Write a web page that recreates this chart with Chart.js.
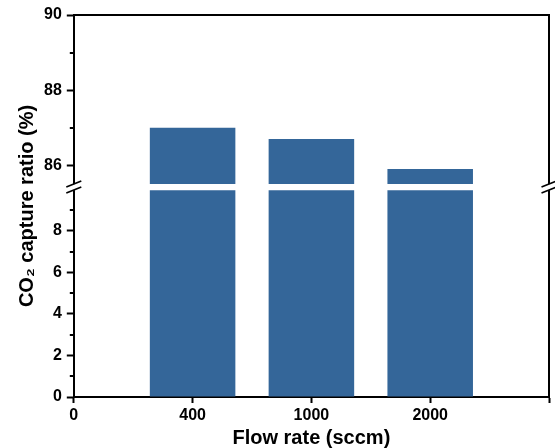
<!DOCTYPE html>
<html>
<head>
<meta charset="utf-8">
<script src="https://cdn.jsdelivr.net/npm/chart.js@4/dist/chart.umd.min.js"></script>
<style>
html,body{margin:0;padding:0;background:#fff;}
#wrap{width:555px;height:448px;}
</style>
</head>
<body>
<div id="wrap"><canvas id="c" width="555" height="448"></canvas></div>
<script>
// ---- data ----
const xTickLabels = ['0', '400', '1000', '2000', ''];
const flowRates = ['400', '1000', '2000'];
const captureRatio = [87.0, 86.7, 85.9];
const upperTicks = [86, 88, 90];
const upperMinorTicks = [87, 89];
const lowerTicks = [0, 2, 4, 6, 8];
const lowerMinorTicks = [1, 3, 5, 7, 9];
const upperRange = [85.5, 90];
const lowerRange = [0, 10.25];
const lowerBarTop = 9.95;
const xTitle = 'Flow rate (sccm)';
const yTitle = 'CO\u2082 capture ratio (%)';

// ---- styles ----
const FONT = "'Liberation Sans', Arial, sans-serif";
const BAR = '#346699';
const INK = '#000';
const tickFont = {family: FONT, size: 16, weight: 'bold', lineHeight: 1};
const titleFont = {family: FONT, size: 20, weight: 'bold', lineHeight: 1};

function yAxis(range, ticks, weight, stackWeight) {
  return {
    type: 'linear', position: 'left', stack: 'y', stackWeight: stackWeight, weight: weight,
    min: range[0], max: range[1],
    afterBuildTicks: s => { s.ticks = ticks.map(v => ({value: v})); },
    ticks: {font: tickFont, color: INK, padding: 5},
    grid: {display: true, drawOnChartArea: false, drawTicks: true, tickLength: 7, tickWidth: 2, tickColor: INK},
    border: {display: true, color: INK, width: 2}
  };
}

const decor = {
  id: 'decor',
  beforeDraw(chart) {
    const ctx = chart.ctx;
    ctx.save(); ctx.fillStyle = '#fff'; ctx.fillRect(0, 0, chart.width, chart.height); ctx.restore();
  },
  afterDraw(chart) {
    const ctx = chart.ctx;
    const {left, right} = chart.chartArea;
    const yT = chart.scales.yTop, yB = chart.scales.yBot;
    ctx.save();
    ctx.strokeStyle = INK; ctx.lineWidth = 2;
    const minor = (scale, vals) => vals.forEach(v => {
      const y = Math.round(scale.getPixelForValue(v));
      ctx.beginPath(); ctx.moveTo(left - 4, y); ctx.lineTo(left, y); ctx.stroke();
    });
    minor(yT, upperMinorTicks);
    minor(yB, lowerMinorTicks);
    const yc = (yT.getPixelForValue(upperRange[0]) + yB.getPixelForValue(lowerBarTop)) / 2;
    [left, right].forEach(x => {
      ctx.fillStyle = '#fff';
      ctx.fillRect(x - 3, yc - 3, 6, 6);
      ctx.lineWidth = 1.6;
      [yc - 3, yc + 3].forEach(y => {
        ctx.beginPath(); ctx.moveTo(x - 7.5, y + 3); ctx.lineTo(x + 7.5, y - 3); ctx.stroke();
      });
    });
    ctx.restore();
  }
};

new Chart(document.getElementById('c'), {
  type: 'bar',
  data: {
    labels: xTickLabels,
    datasets: [
      {
        label: 'upper', xAxisID: 'x', yAxisID: 'yTop', grouped: false,
        data: flowRates.map((f, i) => ({x: f, y: captureRatio[i]})),
        backgroundColor: BAR, borderWidth: 0
      },
      {
        label: 'lower', xAxisID: 'x', yAxisID: 'yBot', grouped: false,
        data: flowRates.map((f, i) => ({x: f, y: Math.min(captureRatio[i], lowerBarTop)})),
        backgroundColor: BAR, borderWidth: 0
      }
    ]
  },
  options: {
    responsive: false,
    animation: false,
    devicePixelRatio: 1,
    layout: {padding: {left: 0, right: 6, top: 15, bottom: 0}},
    plugins: {legend: {display: false}, tooltip: {enabled: false}},
    scales: {
      x: {
        type: 'category', position: 'bottom', offset: false,
        ticks: {font: tickFont, color: INK, padding: 4.5, autoSkip: false, maxRotation: 0},
        grid: {display: true, offset: false, drawOnChartArea: false, drawTicks: true, tickLength: 6, tickWidth: 2, tickColor: INK},
        border: {display: true, color: INK, width: 2},
        title: {display: true, text: xTitle, font: titleFont, color: INK, padding: {top: 0, bottom: 0}}
      },
      xTop: {
        type: 'linear', position: 'top', min: 0, max: 1,
        ticks: {display: false}, grid: {display: false, drawTicks: false},
        border: {display: true, color: INK, width: 2}
      },
      yRight: {
        type: 'linear', position: 'right', min: 0, max: 1,
        ticks: {display: false}, grid: {display: false, drawTicks: false},
        border: {display: true, color: INK, width: 2}
      },
      yTitle: {
        type: 'linear', position: 'left', weight: 10, min: 0, max: 1,
        ticks: {display: false}, grid: {display: false, drawTicks: false},
        border: {display: false},
        title: {display: true, text: yTitle, font: titleFont, color: INK, padding: {top: 17, bottom: 2}}
      },
      yTop: yAxis(upperRange, upperTicks, 2, 169),
      yBot: yAxis(lowerRange, lowerTicks, 1, 213)
    }
  },
  plugins: [decor]
});
</script>
</body>
</html>
